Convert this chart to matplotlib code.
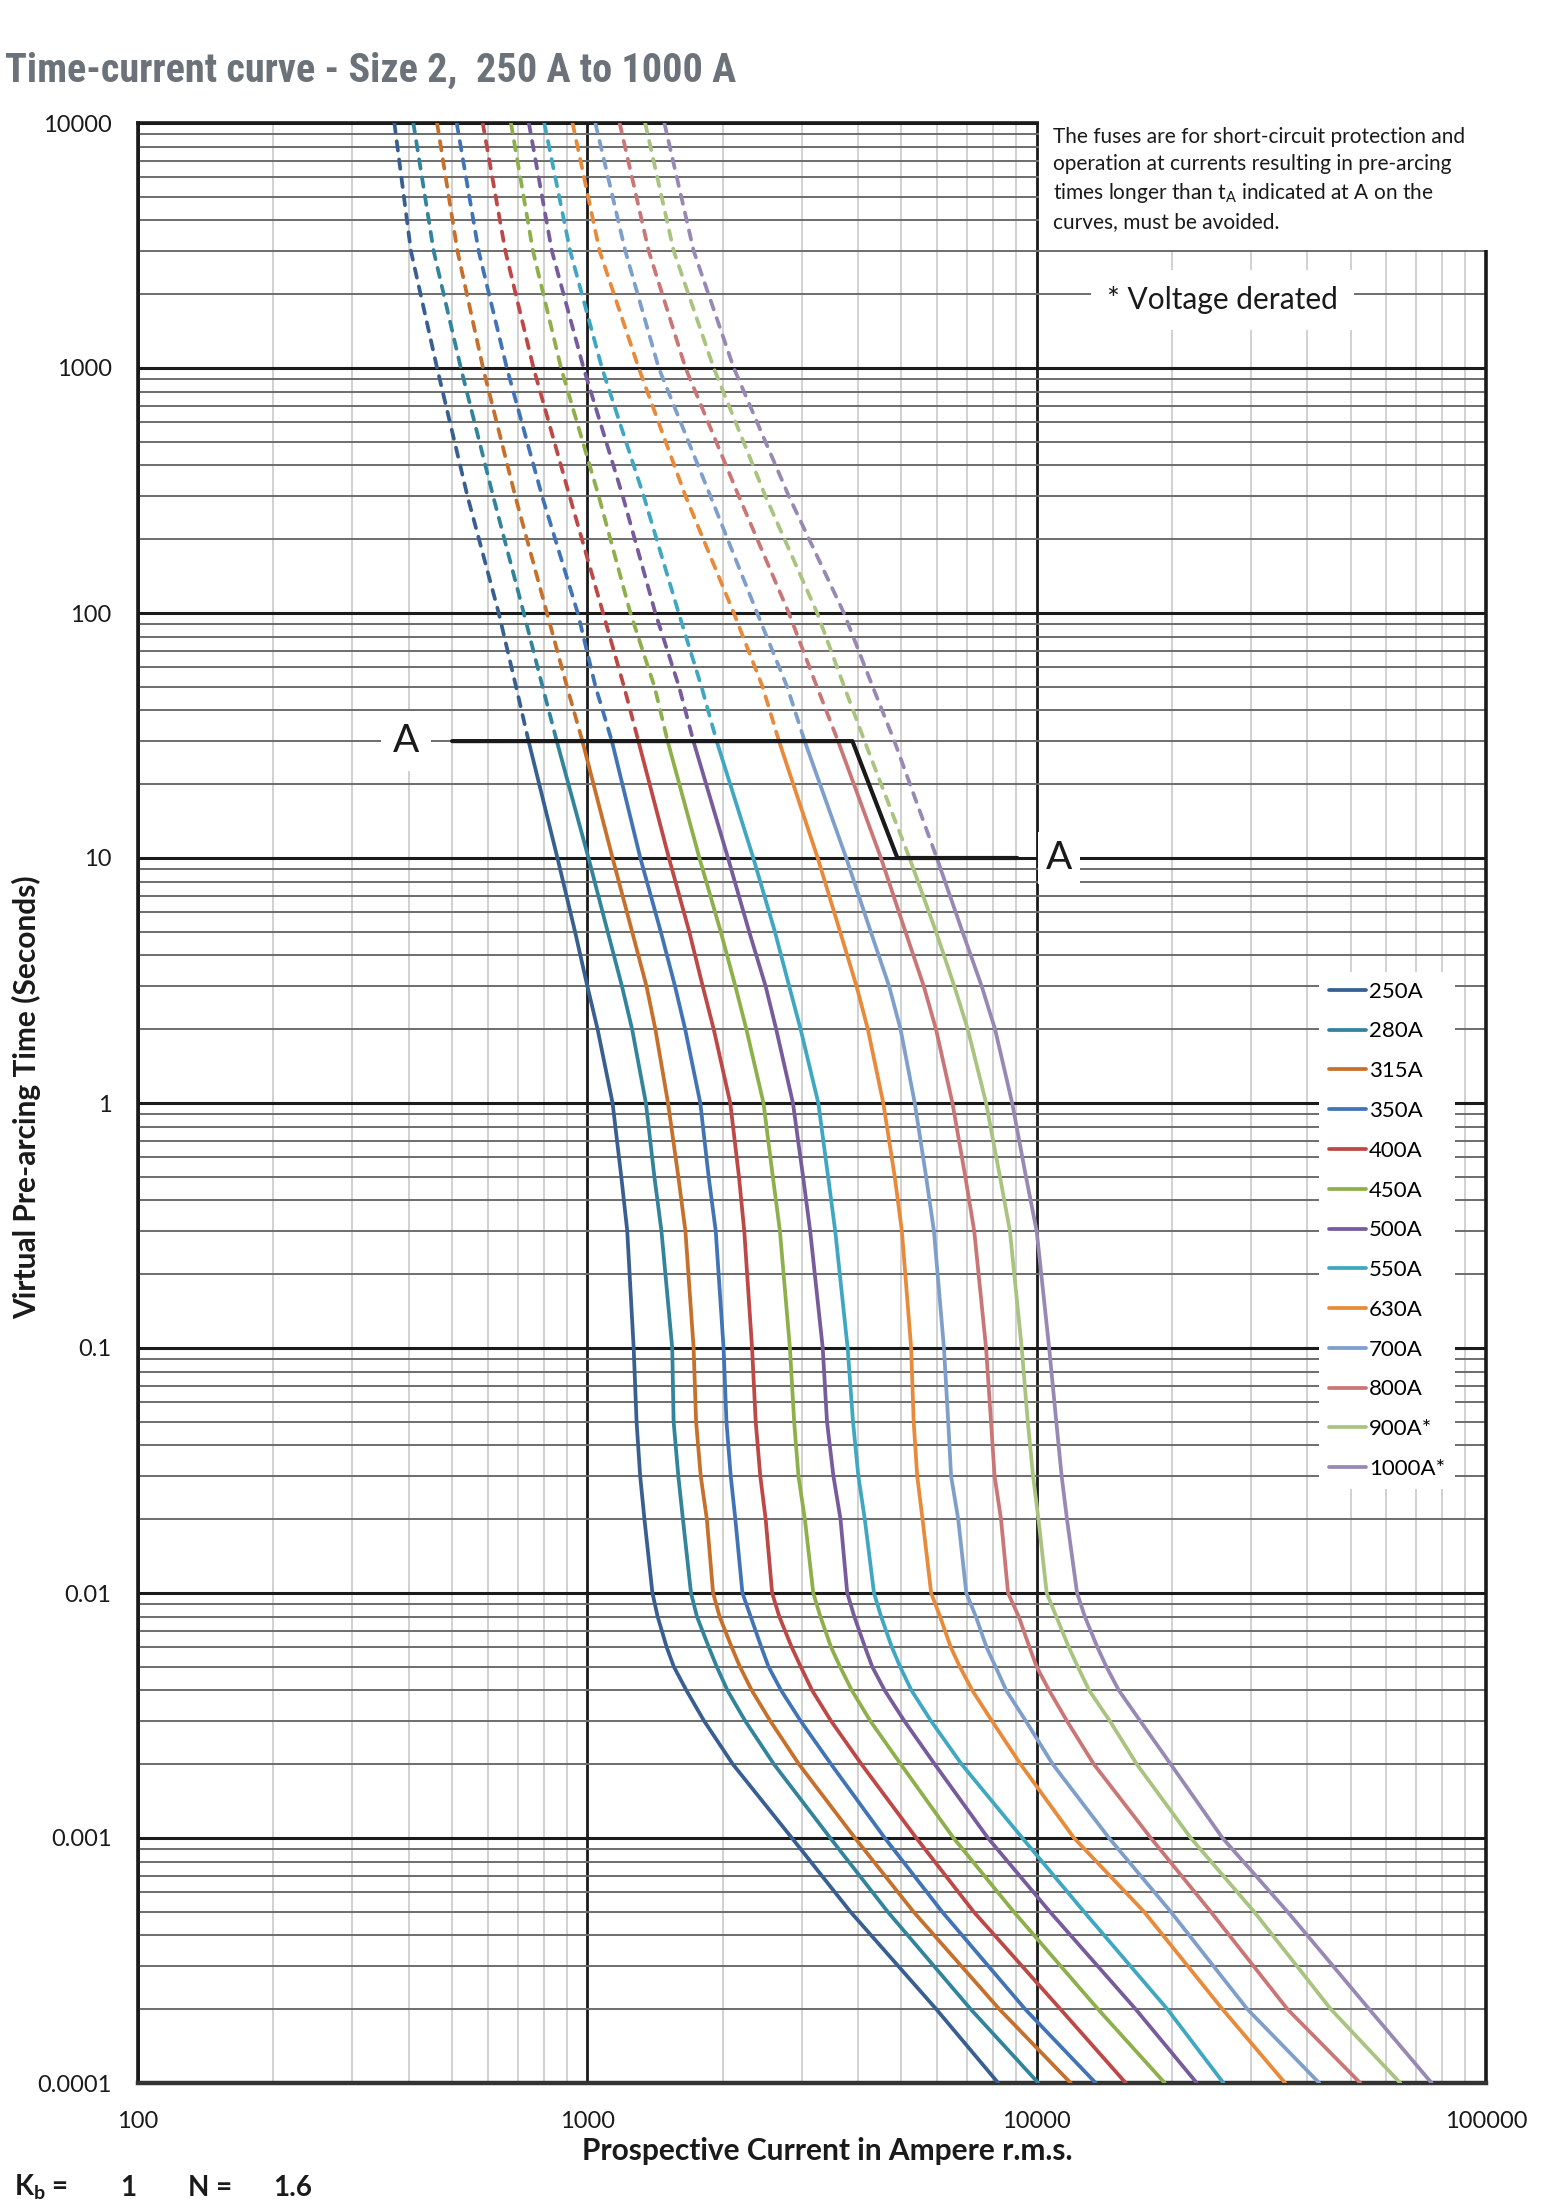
import numpy as np
import matplotlib
matplotlib.use("Agg")
import matplotlib.pyplot as plt
from matplotlib.ticker import FixedLocator, FixedFormatter, LogLocator, NullFormatter
from matplotlib.patches import Rectangle

plt.rcParams['font.family'] = ['Lato', 'DejaVu Sans']
plt.rcParams['mathtext.fontset'] = 'custom'
plt.rcParams['mathtext.rm'] = 'Lato'
plt.rcParams['mathtext.bf'] = 'Lato:bold'
plt.rcParams['mathtext.it'] = 'Lato:italic'

# pre-arcing time (s), shared by all curves
times = [10000, 3000, 1000, 300, 100, 50, 30, 10, 5, 3, 2, 1, 0.5, 0.3, 0.1, 0.05, 0.03, 0.02,
         0.01, 0.008, 0.006, 0.005, 0.004, 0.003, 0.002, 0.001, 0.0005, 0.0002, 0.0001]

# prospective current (A) for each fuse rating
i_250 = [372, 405, 463, 541, 635, 694, 740, 858, 939, 1000, 1054, 1138, 1190, 1227, 1268, 1287,
         1311, 1340, 1396, 1434, 1502, 1558, 1662, 1820, 2108, 2853, 3850, 5980, 8213]
i_280 = [410, 455, 523, 617, 722, 795, 855, 1006, 1110, 1194, 1258, 1350, 1410, 1462, 1545, 1556,
         1594, 1632, 1701, 1754, 1864, 1941, 2051, 2247, 2602, 3473, 4661, 7133, 10088]
i_315 = [463, 514, 586, 691, 813, 901, 975, 1138, 1258, 1354, 1417, 1512, 1594, 1653, 1724, 1746,
         1788, 1845, 1905, 1970, 2096, 2186, 2323, 2555, 2958, 3942, 5319, 8262, 11904]
i_350 = [512, 573, 662, 793, 952, 1043, 1134, 1312, 1457, 1567, 1651, 1784, 1862, 1931, 2010, 2040,
         2085, 2135, 2214, 2310, 2440, 2531, 2700, 2985, 3488, 4592, 6159, 9430, 13533]
i_400 = [585, 657, 759, 913, 1084, 1207, 1299, 1519, 1686, 1806, 1911, 2080, 2175, 2235, 2326, 2370,
         2426, 2494, 2578, 2675, 2851, 2985, 3165, 3488, 4075, 5397, 7240, 11300, 15787]
i_450 = [676, 757, 874, 1060, 1247, 1411, 1509, 1776, 1981, 2135, 2259, 2466, 2587, 2683, 2824, 2886,
         2950, 3049, 3183, 3302, 3488, 3651, 3879, 4266, 4985, 6531, 8890, 13700, 19278]
i_500 = [741, 834, 981, 1199, 1417, 1600, 1722, 2056, 2292, 2493, 2632, 2868, 3021, 3133, 3341, 3415,
         3529, 3660, 3788, 3929, 4151, 4306, 4591, 5078, 5932, 7791, 10700, 16612, 22718]
i_550 = [802, 916, 1078, 1335, 1597, 1795, 1940, 2341, 2615, 2813, 2983, 3266, 3434, 3562, 3796, 3902,
         4010, 4145, 4345, 4507, 4763, 4967, 5266, 5823, 6807, 9292, 12747, 19543, 26050]
i_630 = [927, 1065, 1301, 1654, 2118, 2455, 2670, 3256, 3652, 3972, 4210, 4556, 4832, 5012, 5256, 5324,
         5422, 5572, 5823, 6097, 6441, 6745, 7192, 7956, 9209, 12111, 17338, 25918, 35727]
i_700 = [1042, 1215, 1442, 1879, 2387, 2784, 3046, 3769, 4273, 4694, 4978, 5354, 5675, 5907, 6218, 6356,
         6450, 6690, 6972, 7325, 7737, 8100, 8558, 9465, 10859, 14490, 19881, 29449, 42548]
i_800 = [1180, 1370, 1654, 2173, 2808, 3243, 3614, 4503, 5105, 5606, 5970, 6494, 6938, 7262, 7716, 7914,
         8060, 8330, 8637, 9125, 9640, 10000, 10663, 11684, 13405, 17950, 24406, 36166, 52505]
i_900 = [1345, 1557, 1911, 2491, 3247, 3731, 4140, 5212, 5970, 6556, 7025, 7717, 8285, 8720, 9262, 9555,
         9818, 10093, 10527, 11061, 11793, 12346, 13093, 14558, 16705, 22029, 30479, 45163, 64447]
i_1000 = [1484, 1725, 2118, 2808, 3724, 4317, 4823, 5995, 6837, 7543, 8080, 8820, 9467, 10000, 10661,
          11058, 11365, 11681, 12300, 12805, 13655, 14294, 15241, 17011, 19878, 25918, 36166, 54984, 75683]

ratings = ['250A', '280A', '315A', '350A', '400A', '450A', '500A', '550A', '630A', '700A',
           '800A', '900A*', '1000A*']
currents = [i_250, i_280, i_315, i_350, i_400, i_450, i_500, i_550, i_630, i_700, i_800, i_900, i_1000]
colors = ['#385f91', '#31849b', '#c6702b', '#4174b6', '#bd4846', '#8db04a', '#775b9c', '#40a7c2',
          '#e98a3a', '#7e9ecb', '#cb7676', '#a8c47f', '#9888b4']

# line "A": limit of pre-arcing time t_A
a_current = [500, 3890, 4898, 9057]
a_time = [30, 30, 10, 10]

x_ticks = [100, 1000, 10000, 100000]
x_labels = ['100', '1000', '10000', '100000']
y_ticks = [0.0001, 0.001, 0.01, 0.1, 1, 10, 100, 1000, 10000]
y_labels = ['0.0001', '0.001', '0.01', '0.1', '1', '10', '100', '1000', '10000']

fig = plt.figure(figsize=(15.55, 22.05), dpi=100)
ax = fig.add_axes([138 / 1555, 1 - 2083 / 2205, 1348 / 1555, 1960 / 2205])
ax.set_xscale('log')
ax.set_yscale('log')
ax.set_xlim(100, 100000)
ax.set_ylim(0.0001, 10000)
ax.set_axisbelow(True)

ax.xaxis.set_major_locator(FixedLocator(x_ticks))
ax.xaxis.set_major_formatter(FixedFormatter(x_labels))
ax.yaxis.set_major_locator(FixedLocator(y_ticks))
ax.yaxis.set_major_formatter(FixedFormatter(y_labels))
for a in (ax.xaxis, ax.yaxis):
    a.set_minor_locator(LogLocator(base=10, subs=np.arange(2, 10), numticks=100))
    a.set_minor_formatter(NullFormatter())
ax.tick_params(which='both', length=0)
ax.tick_params(axis='y', pad=19, labelsize=17, labelcolor='#1a1a1a')
ax.tick_params(axis='x', pad=20, labelsize=17, labelcolor='#1a1a1a')

ax.grid(True, which='major', axis='y', color='#1a1a1a', lw=2.2)
ax.grid(True, which='minor', axis='y', color='#6c6c6c', lw=1.4)
ax.grid(True, which='major', axis='x', color='#1a1a1a', lw=2.0)
ax.grid(True, which='minor', axis='x', color='#c9c9c9', lw=1.2)

for s in ax.spines.values():
    s.set_color('#1a1a1a')
    s.set_linewidth(2.6)
ax.spines['bottom'].set_color('#333333')
ax.spines['bottom'].set_linewidth(3.2)

# blank area for the note at top right
ax.add_patch(Rectangle((10120, 3040), 200000, 20000, facecolor='white', edgecolor='none',
                       zorder=3, clip_on=False))

a_log_i = np.log10(a_current)
a_log_t = np.log10(a_time)
for cur, lab, col in zip(currents, ratings, colors):
    cur = np.array(cur, dtype=float)
    t = np.array(times, dtype=float)
    t_a = 10 ** np.interp(np.log10(cur), a_log_i, a_log_t)
    k = int(np.argmax(t <= t_a * 1.001))
    ax.plot(cur[:k + 1], t[:k + 1], color=col, lw=2.7, ls=(0, (2.5, 2.4)),
            dash_capstyle='round', zorder=4)
    ax.plot(cur[k:], t[k:], color=col, lw=2.7, solid_capstyle='round',
            solid_joinstyle='round', label=lab, zorder=4)

ax.plot(a_current, a_time, color='#1a1a1a', lw=3.0, solid_capstyle='round', zorder=5)

ax.text(395, 30, 'A', fontsize=28, color='#1a1a1a', ha='center', va='center', zorder=6,
        bbox=dict(boxstyle='square,pad=0.3', fc='white', ec='none'))
ax.text(11200, 10, 'A', fontsize=28, color='#1a1a1a', ha='center', va='center', zorder=6,
        bbox=dict(boxstyle='square,pad=0.2', fc='white', ec='none'))

ax.text(0.679, 0.998,
        'The fuses are for short-circuit protection and\n'
        'operation at currents resulting in pre-arcing\n'
        'times longer than t$_\\mathrm{A}$ indicated at A on the\n'
        'curves, must be avoided.',
        transform=ax.transAxes, fontsize=15, color='#1a1a1a', ha='left', va='top',
        linespacing=1.42, zorder=7)
ax.text(25900, 1895, '* Voltage derated', fontsize=21.5, color='#1a1a1a', ha='center',
        va='center', zorder=6, bbox=dict(boxstyle='square,pad=0.55', fc='white', ec='none'))

leg = ax.legend(loc='upper left', bbox_to_anchor=(0.876, 0.567), fontsize=16, frameon=True,
                fancybox=False, edgecolor='none', facecolor='white', framealpha=1,
                handlelength=1.65, handletextpad=0.15, labelspacing=0.89, borderpad=0.45,
                borderaxespad=0)
leg.set_zorder(8)

ax.set_xlabel('Prospective Current in Ampere r.m.s.', fontsize=21.5, weight='bold',
              color='#1a1a1a', va='center')
ax.xaxis.set_label_coords(0.511, -0.0347)
ax.set_ylabel('Virtual Pre-arcing Time (Seconds)', fontsize=21.5, weight='bold',
              color='#1a1a1a', va='center')
ax.yaxis.set_label_coords(-0.0823, 0.503)

fig.text(0.003, 1 - 82 / 2205, 'Time-current curve - Size 2,  250 A to 1000 A',
         family=['Roboto Condensed', 'Liberation Sans Narrow', 'Lato'],
         weight='bold', fontsize=29, color='#6b7279', ha='left', va='baseline')

kb_y = 1 - 2196 / 2205
fig.text(14 / 1555, kb_y, 'K$_\\mathbf{b}$ =', fontsize=20, weight='bold',
         color='#1a1a1a', ha='left', va='baseline')
fig.text(120 / 1555, kb_y, '1', fontsize=20, weight='bold',
         color='#1a1a1a', ha='left', va='baseline')
fig.text(188 / 1555, kb_y, 'N =', fontsize=20, weight='bold',
         color='#1a1a1a', ha='left', va='baseline')
fig.text(273 / 1555, kb_y, '1.6', fontsize=20, weight='bold',
         color='#1a1a1a', ha='left', va='baseline')

fig.savefig('out.png', dpi=100)
